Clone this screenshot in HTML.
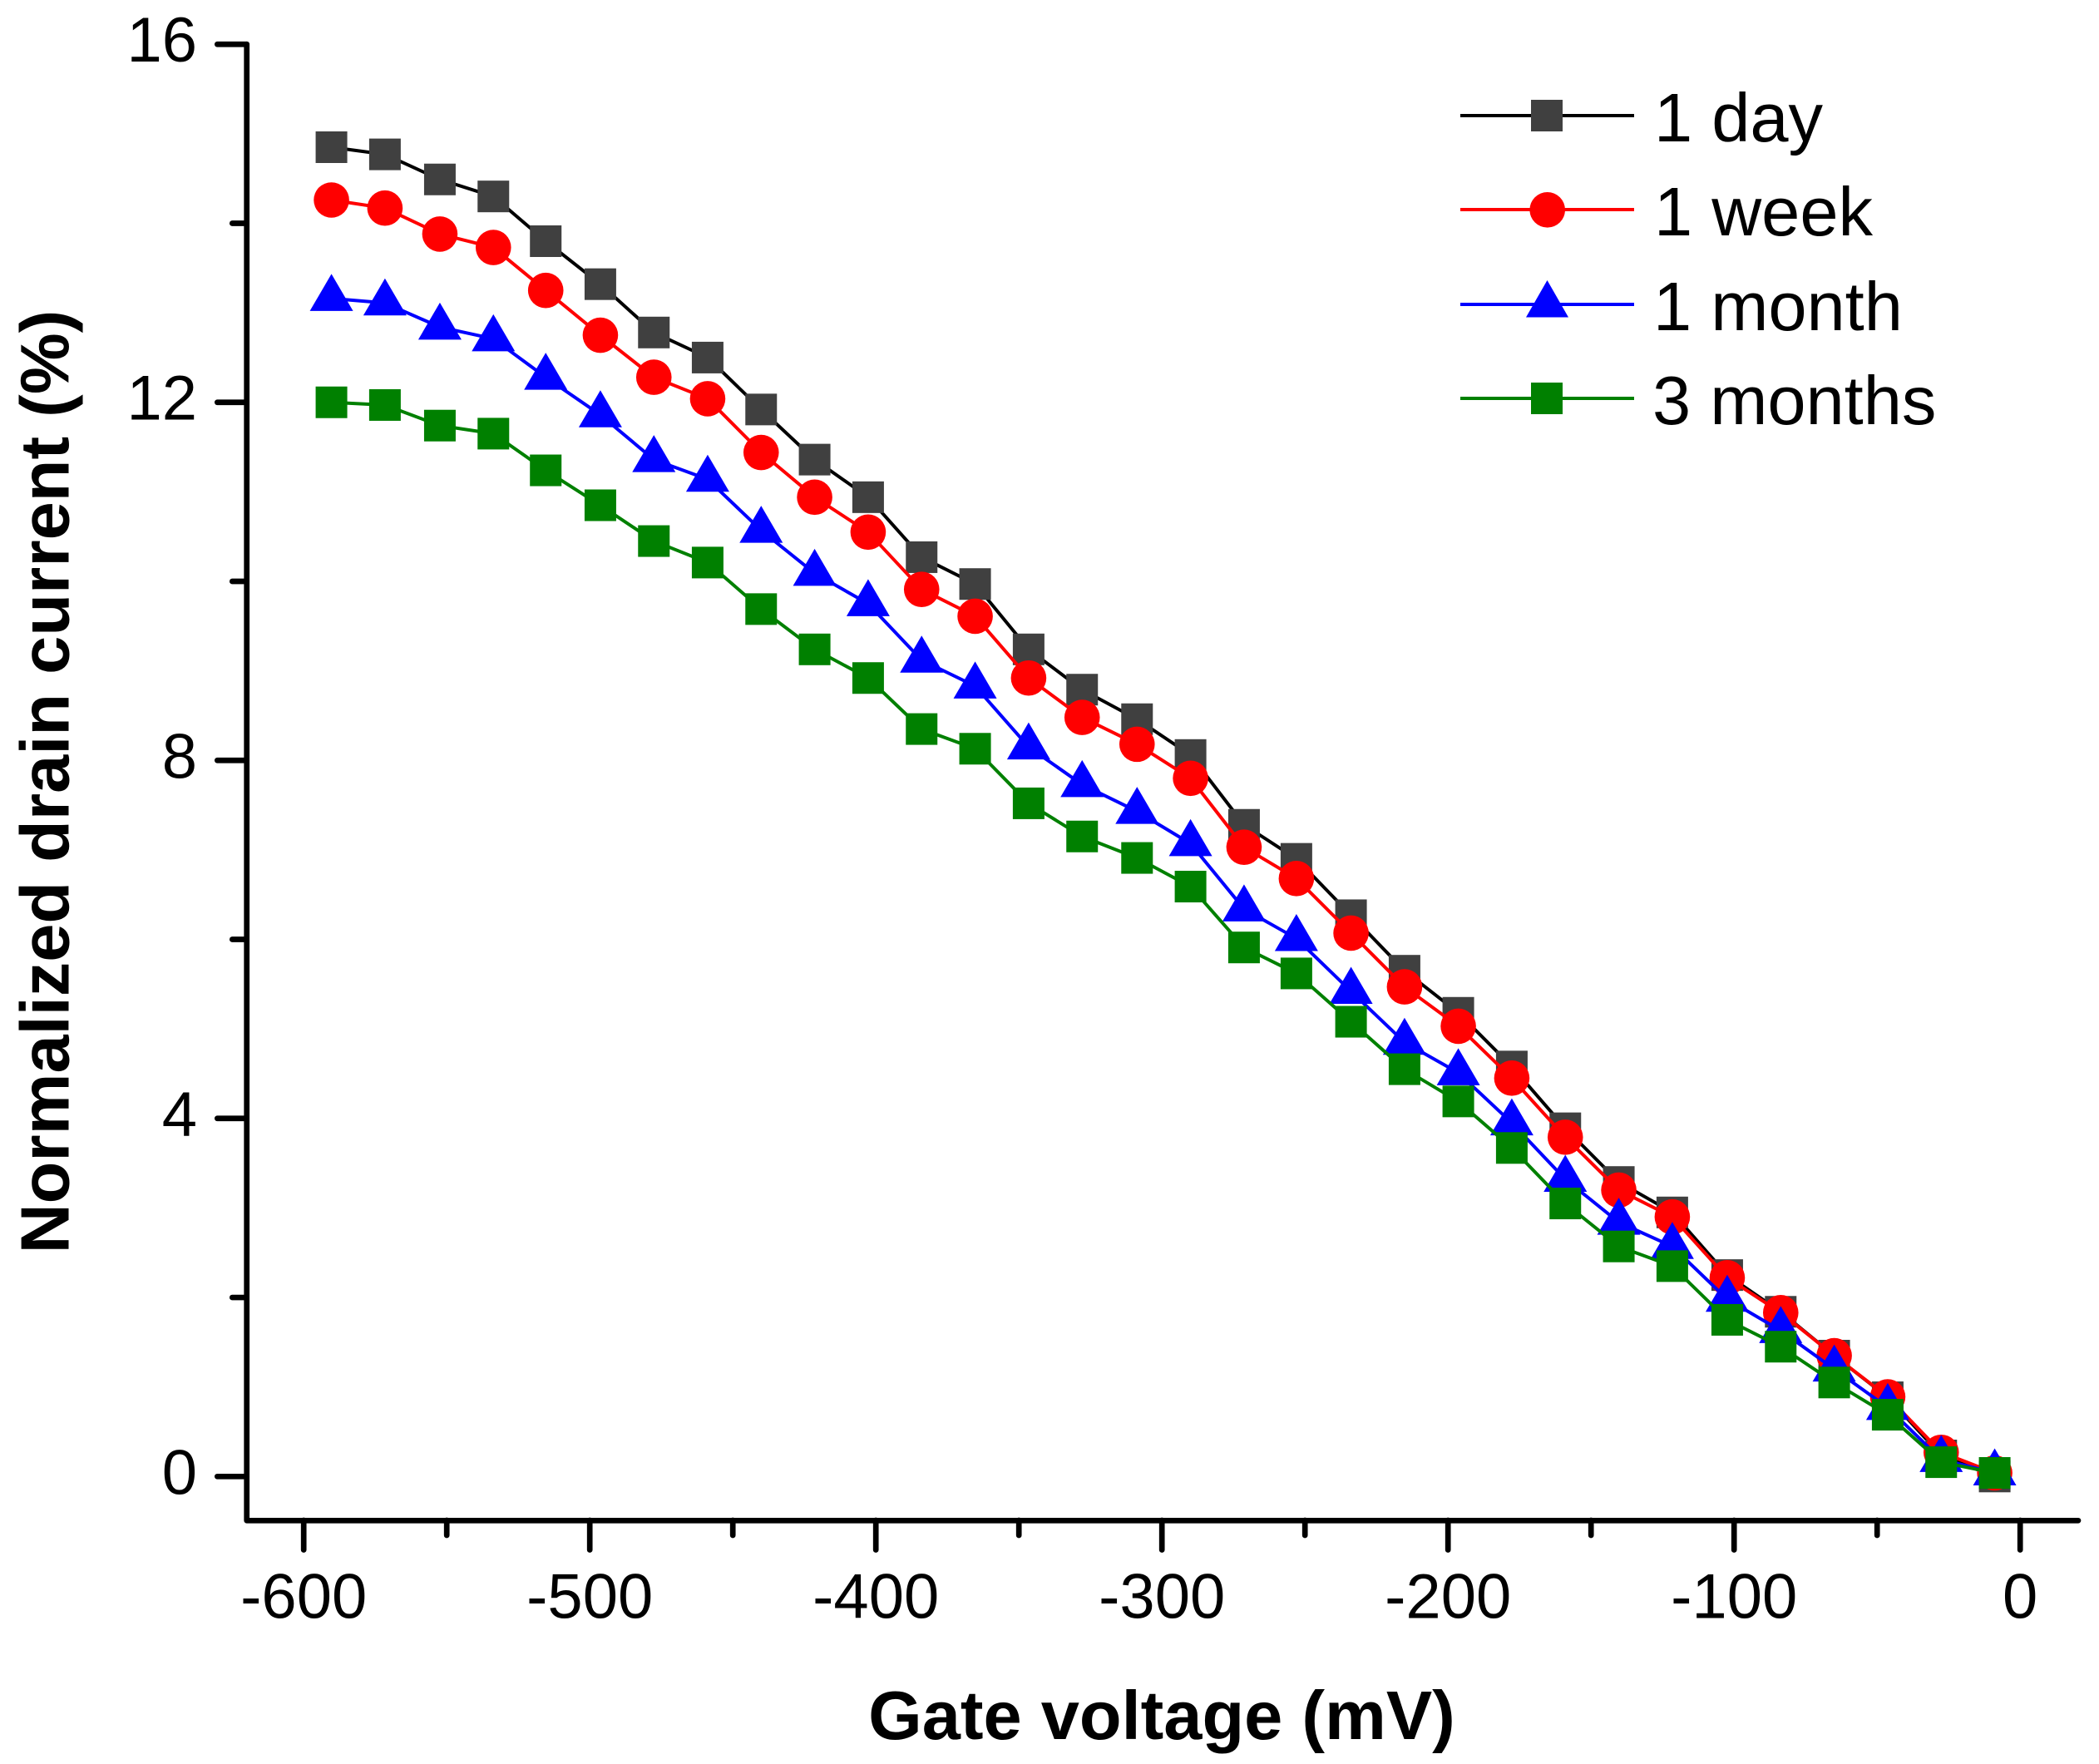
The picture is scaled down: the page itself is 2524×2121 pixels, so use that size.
<!DOCTYPE html>
<html lang="en">
<head>
<meta charset="utf-8">
<title>Normalized drain current vs gate voltage</title>
<style>
html,body{margin:0;padding:0;background:#fff;}
svg{display:block;}
text{font-family:"Liberation Sans",Arial,sans-serif;fill:#000;}
</style>
</head>
<body>
<svg id="chart" xmlns="http://www.w3.org/2000/svg" width="2524" height="2121" viewBox="0 0 2524 2121">
  <rect x="0" y="0" width="2524" height="2121" fill="#ffffff"/>
  <g id="axes"></g>
  <g id="series"></g>
  <text transform="translate(82.5,940) rotate(-90)" text-anchor="middle" font-size="83" font-weight="700">Normalized drain current (%)</text>
  <text x="1397" y="2091" text-anchor="middle" font-size="83" font-weight="700">Gate voltage (mV)</text>
  <g>
    <g>
      <line x1="1756" y1="139" x2="1965" y2="139" stroke="#000000" stroke-width="4"/>
      <rect x="1841" y="120" width="38" height="38" fill="#404040"/>
      <text x="1989" y="170" font-size="83">1 day</text>
    </g>
    <g>
      <line x1="1756" y1="252" x2="1965" y2="252" stroke="#ff0000" stroke-width="4"/>
      <circle cx="1860.7" cy="252.3" r="21.3" fill="#ff0000"/>
      <text x="1989" y="283" font-size="83">1 week</text>
    </g>
    <g>
      <line x1="1756" y1="366" x2="1965" y2="366" stroke="#0000ff" stroke-width="4"/>
      <polygon points="1860.5,337 1886,381.5 1835,381.5" fill="#0000ff"/>
      <text x="1988" y="397" font-size="83">1 month</text>
    </g>
    <g>
      <line x1="1756" y1="479" x2="1965" y2="479" stroke="#008000" stroke-width="4"/>
      <rect x="1841" y="460" width="38" height="38" fill="#008000"/>
      <text x="1987" y="510" font-size="83">3 months</text>
    </g>
  </g>
</svg>
<script>
const gateVoltage = [-590.3,-571.6,-552.4,-533.7,-515.4,-496.3,-477.6,-458.8,-440.1,-421.4,-402.7,-384,-365.3,-346.6,-327.9,-308.7,-290,-271.3,-253,-233.9,-215.2,-196.4,-177.7,-159,-140.3,-121.6,-102.4,-83.7,-65,-46.3,-27.6,-8.9];
const oneDay = [14.85,14.77,14.49,14.30,13.80,13.32,12.78,12.50,11.92,11.36,10.94,10.27,9.97,9.24,8.79,8.46,8.06,7.28,6.90,6.27,5.65,5.18,4.58,3.89,3.29,2.95,2.25,1.84,1.35,0.885,0.235,0.00];
const oneWeek = [14.26,14.17,13.88,13.73,13.25,12.75,12.28,12.04,11.44,10.94,10.55,9.91,9.61,8.92,8.48,8.18,7.80,7.03,6.68,6.07,5.47,5.03,4.45,3.79,3.20,2.90,2.22,1.83,1.35,0.89,0.27,0.04];
const oneMonth = [13.16,13.11,12.84,12.71,12.28,11.86,11.36,11.14,10.57,10.09,9.75,9.12,8.83,8.15,7.73,7.43,7.07,6.34,6.01,5.42,4.85,4.51,3.95,3.32,2.84,2.57,1.98,1.63,1.20,0.77,0.19,0.04];
const threeMonths = [12.00,11.97,11.74,11.65,11.24,10.85,10.45,10.21,9.69,9.24,8.92,8.35,8.13,7.52,7.15,6.91,6.59,5.91,5.62,5.08,4.55,4.19,3.67,3.05,2.57,2.35,1.75,1.45,1.05,0.69,0.16,0.04];
const xMajorTicks = [-600,-500,-400,-300,-200,-100,0];
const xMinorTicks = [-550,-450,-350,-250,-150,-50];
const yMajorTicks = [0,4,8,12,16];
const yMinorTicks = [2,6,10,14];

const NS = 'http://www.w3.org/2000/svg';
function sx(v){ return 2429.2 + v * 3.44; }
function sy(v){ return 1775.3 - v * 107.63; }

function make(tag, attrs, parent){
  const el = document.createElementNS(NS, tag);
  for (const k in attrs) el.setAttribute(k, attrs[k]);
  parent.appendChild(el);
  return el;
}

const axes = document.getElementById('axes');

const axisFrame = make('path', {d:'M296.7 ' + sy(16) + ' V1828.3 H2499', fill:'none', stroke:'#000', 'stroke-width':6.7, 'stroke-linejoin':'round', 'stroke-linecap':'round'}, axes);



xMajorTicks.forEach(function(v){
  const t = make('line', {x1:sx(v), y1:1828, x2:sx(v), y2:1863.5, stroke:'#000', 'stroke-width':6.7, 'stroke-linecap':'round'}, axes);
  
  
  const l = make('text', {x:sx(v), y:1945.5, 'text-anchor':'middle', 'font-size':76}, axes);
  
  
  l.textContent = String(v);
});
xMinorTicks.forEach(function(v){
  const t = make('line', {x1:sx(v), y1:1828, x2:sx(v), y2:1846, stroke:'#000', 'stroke-width':6.7, 'stroke-linecap':'round'}, axes);
  
  
});
yMajorTicks.forEach(function(v){
  const t = make('line', {x1:261.3, y1:sy(v), x2:296.7, y2:sy(v), stroke:'#000', 'stroke-width':6.7, 'stroke-linecap':'round'}, axes);
  
  
  const l = make('text', {x:237, y:sy(v)+21, 'text-anchor':'end', 'font-size':76}, axes);
  
  
  l.textContent = String(v);
});
yMinorTicks.forEach(function(v){
  const t = make('line', {x1:279.3, y1:sy(v), x2:296.7, y2:sy(v), stroke:'#000', 'stroke-width':6.7, 'stroke-linecap':'round'}, axes);
  
  
});

const seriesGroup = document.getElementById('series');

function drawSeries(values, lineColor, fillColor, shape, key){
  const g = make('g', {}, seriesGroup);
  
  
  const pts = values.map(function(v, i){ return sx(gateVoltage[i]) + ',' + sy(v); }).join(' ');
  const line = make('polyline', {points:pts, fill:'none', stroke:lineColor, 'stroke-width':4, 'stroke-linejoin':'round'}, g);
  
  
  values.forEach(function(v, i){
    const x = sx(gateVoltage[i]), y = sy(v);
    let m;
    if (shape === 'square') {
      m = make('rect', {x:x-19, y:y-19, width:38, height:38, fill:fillColor}, g);
    } else if (shape === 'circle') {
      m = make('circle', {cx:x, cy:y, r:21.3, fill:fillColor}, g);
    } else {
      m = make('polygon', {points:x+','+(y-29.5)+' '+(x+26)+','+(y+15)+' '+(x-26)+','+(y+15), fill:fillColor}, g);
    }
    
    
  });
}

drawSeries(oneDay, '#000000', '#404040', 'square', '1-day');
drawSeries(oneWeek, '#ff0000', '#ff0000', 'circle', '1-week');
drawSeries(oneMonth, '#0000ff', '#0000ff', 'triangle', '1-month');
drawSeries(threeMonths, '#008000', '#008000', 'square', '3-months');
</script>
</body>
</html>
